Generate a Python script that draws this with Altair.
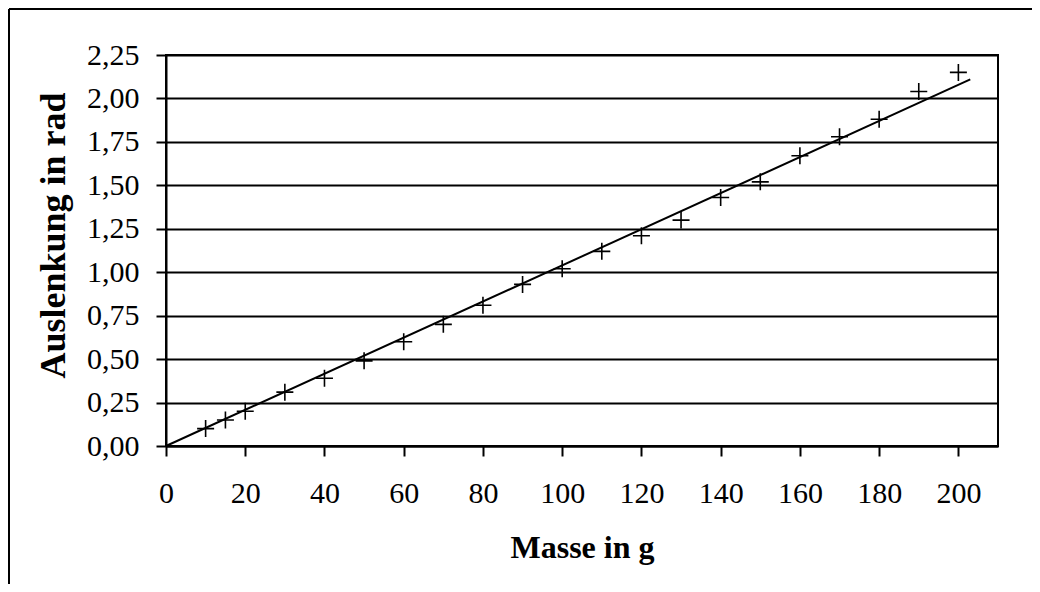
import altair as alt
import pandas as pd

masse = [10, 15, 20, 30, 40, 50, 60, 70, 80, 90, 100, 110, 120, 130, 140, 150, 160, 170, 180, 190, 200]
auslenkung = [0.10, 0.15, 0.20, 0.31, 0.39, 0.49, 0.60, 0.70, 0.81, 0.93, 1.02, 1.12, 1.21, 1.30,
              1.43, 1.52, 1.67, 1.78, 1.88, 2.04, 2.15]
trend_x = [0, 203]
trend_y = [0.0, 2.11]
x_ticks = [0, 20, 40, 60, 80, 100, 120, 140, 160, 180, 200]
y_ticks = [0.0, 0.25, 0.5, 0.75, 1.0, 1.25, 1.5, 1.75, 2.0, 2.25]

FONT = "Liberation Serif"

pts = pd.DataFrame({"m": masse, "a": auslenkung})
trend = pd.DataFrame({"m": trend_x, "a": trend_y})

W, H = 832, 391

xs = alt.Scale(domain=[0, 210], nice=False, zero=False)
ys = alt.Scale(domain=[0, 2.25], nice=False)

x_axis = alt.Axis(values=x_ticks, title="Masse in g", grid=False, tickSize=10, tickColor="black",
                  tickWidth=2, domainColor="black", domainWidth=2, labelFont=FONT, labelFontSize=30,
                  labelColor="black", labelPadding=22, titleFont=FONT, titleFontSize=32,
                  titleFontWeight="bold", titleColor="black", titlePadding=24, labelFlush=False)
y_axis = alt.Axis(values=y_ticks, title="Auslenkung in rad", grid=True, gridColor="black",
                  gridWidth=2, gridOpacity=1, tickSize=10, tickColor="black", tickWidth=2,
                  domainColor="black", domainWidth=2, labelFont=FONT, labelFontSize=30,
                  labelColor="black", labelPadding=17,
                  labelExpr="replace(format(datum.value, '.2f'), '.', ',')",
                  titleFont=FONT, titleFontSize=36, titleFontWeight="bold", titleColor="black",
                  titlePadding=14, titleY=180, labelFlush=False)

frame = pd.DataFrame({"d": [0]})
border_top = alt.Chart(frame).mark_rule(color="black", strokeWidth=2, clip=False).encode(
    x=alt.value(-157), x2=alt.value(W + 400), y=alt.value(-46)
)
border_left = alt.Chart(frame).mark_rule(color="black", strokeWidth=2, clip=False).encode(
    x=alt.value(-157), y=alt.value(-46), y2=alt.value(H + 400)
)

points = alt.Chart(pts).mark_point(
    shape="M-1,0L1,0M0,-1L0,1", size=289, filled=False, stroke="black", strokeWidth=1.6, opacity=1
).encode(x=alt.X("m:Q", scale=xs, axis=x_axis), y=alt.Y("a:Q", scale=ys, axis=y_axis))

line = alt.Chart(trend).mark_line(color="black", strokeWidth=2, clip=False).encode(
    x=alt.X("m:Q", scale=xs), y=alt.Y("a:Q", scale=ys)
)

chart = alt.layer(border_top, border_left, line, points).properties(
    width=W, height=H,
    autosize=alt.AutoSizeParams(type="none"),
    padding={"left": 158, "top": 47, "right": 34, "bottom": 138},
    background="white",
).configure_view(stroke="black", strokeWidth=2)

chart.save("out.html", embed_options={"renderer": "svg", "actions": False})
